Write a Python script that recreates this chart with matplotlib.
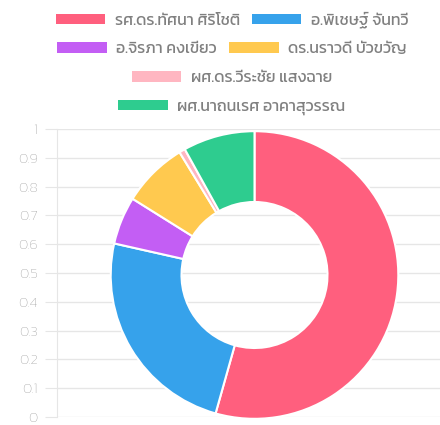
import matplotlib
matplotlib.use("Agg")
import matplotlib.pyplot as plt
from matplotlib.ticker import FixedLocator, FuncFormatter

plt.rcParams['font.family'] = ['Kanit', 'Loma', 'DejaVu Sans']
plt.rcParams['font.weight'] = 'normal'

labels = ["รศ.ดร.ทัศนา ศิริโชติ", "อ.พิเชษฐ์ จันทวี", "อ.จิรภา คงเขียว",
          "ดร.นราวดี บัวขวัญ", "ผศ.ดร.วีระชัย แสงฉาย", "ผศ.นาถนเรศ อาคาสุวรรณ"]
values = [81, 36, 8, 11, 1, 12]
colors = ["#ff5f7e", "#36a2eb", "#c35ef4", "#ffc94f", "#ffb6c1", "#2ecc8f"]
yticks = [0, 0.1, 0.2, 0.3, 0.4, 0.5, 0.6, 0.7, 0.8, 0.9, 1]

W, H = 440, 425
fig = plt.figure(figsize=(W / 100, H / 100), dpi=100)

grid_c = "#e6e6e6"
tick_c = "#9a9a9a"

# background scale axes
ax = fig.add_axes([57 / W, 8 / H, 1 - 57 / W, 288 / H])
ax.set_ylim(0, 1)
ax.set_xlim(0, 1)
ax.yaxis.set_major_locator(FixedLocator(yticks))
ax.yaxis.set_major_formatter(FuncFormatter(lambda v, p: "%g" % v))
ax.set_xticks([])
ax.grid(axis="y", color=grid_c, linewidth=1, alpha=1)
for s in ["top", "right", "bottom"]:
    ax.spines[s].set_visible(False)
ax.spines["left"].set_color(grid_c)
ax.tick_params(axis="y", length=9, color=grid_c, labelcolor=tick_c,
               labelsize=10.5, pad=5)
for t in ax.get_yticklabels():
    t.set_fontweight('light')
ax.patch.set_alpha(0)

# doughnut axes
pax = fig.add_axes([(254.5 - 146) / W, 4 / H, 292 / W, 292 / H])
wedges, _ = pax.pie(values, colors=colors, startangle=90, counterclock=False,
                    radius=0.985,
                    wedgeprops=dict(width=0.485, edgecolor="white", linewidth=1.5))
pax.set_xlim(-1, 1)
pax.set_ylim(-1, 1)
pax.set_aspect("equal")
pax.axis("off")

# legend rows
rows = [[0, 1], [2, 3], [4], [5]]
row_y = [20, 49, 78, 107]
for r, yy in zip(rows, row_y):
    leg = fig.legend([wedges[i] for i in r], [labels[i] for i in r],
                     loc="center", bbox_to_anchor=(232 / W, 1 - yy / H),
                     ncol=len(r), frameon=False, fontsize=11.5,
                     handlelength=3.1, handleheight=0.62, handletextpad=0.6,
                     columnspacing=0.75, borderpad=0, borderaxespad=0)
    for t in leg.get_texts():
        t.set_color("#808080")
    for h in leg.legend_handles:
        h.set_edgecolor("none")

fig.savefig("out.png", dpi=100)
